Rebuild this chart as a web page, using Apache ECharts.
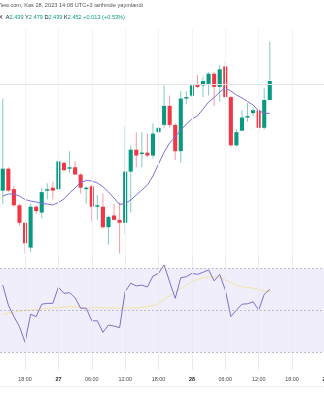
<!DOCTYPE html>
<html>
<head>
<meta charset="utf-8">
<script src="https://cdn.jsdelivr.net/npm/echarts@6/dist/echarts.min.js"></script>
<style>
  html, body { margin: 0; padding: 0; background: #ffffff; }
  #chart { width: 324px; height: 400px; }
</style>
</head>
<body>
<div id="chart"></div>
<script>
// Hourly slots, Nov 26 14:00 .. Nov 29 00:00 (the last ones are still empty)
const hours = [
  '26 14:00','26 15:00','26 16:00','26 17:00','26 18:00','26 19:00','26 20:00','26 21:00','26 22:00','26 23:00',
  '27 00:00','27 01:00','27 02:00','27 03:00','27 04:00','27 05:00','27 06:00','27 07:00','27 08:00','27 09:00',
  '27 10:00','27 11:00','27 12:00','27 13:00','27 14:00','27 15:00','27 16:00','27 17:00','27 18:00','27 19:00',
  '27 20:00','27 21:00','27 22:00','27 23:00',
  '28 00:00','28 01:00','28 02:00','28 03:00','28 04:00','28 05:00','28 06:00','28 07:00','28 08:00','28 09:00',
  '28 10:00','28 11:00','28 12:00','28 13:00','28 14:00','28 15:00','28 16:00','28 17:00','28 18:00','28 19:00',
  '28 20:00','28 21:00','28 22:00','28 23:00',
  '29 00:00'
];

// Time-axis labels shown under the RSI pane
const tickHours = ['26 18:00','27 00:00','27 06:00','27 12:00','27 18:00','28 00:00','28 06:00','28 12:00','28 18:00','29 00:00'];

// OHLC per hour
const openP  = [2.377,2.392,2.378,2.367,2.355,2.338,2.366,2.362,2.377,2.379,
                2.378,2.396,2.392,2.393,2.388,2.378,2.380,2.366,2.366,2.352,
                2.360,2.357,2.355,2.390,2.405,2.402,2.403,2.401,2.417,2.422,
                2.435,2.422,2.404,2.440,2.442,2.450,2.449,2.450,2.457,2.448,
                2.462,2.441,2.408,2.418,2.427,2.430,2.432,2.420,2.439];
const highP  = [2.440,2.393,2.380,2.368,2.355,2.368,2.367,2.379,2.382,2.383,
                2.400,2.397,2.404,2.397,2.389,2.380,2.381,2.374,2.375,2.360,
                2.368,2.369,2.421,2.408,2.417,2.417,2.416,2.423,2.425,2.449,
                2.442,2.423,2.445,2.445,2.450,2.456,2.455,2.458,2.458,2.463,
                2.465,2.442,2.419,2.432,2.437,2.434,2.434,2.447,2.479];
const lowP   = [2.368,2.376,2.366,2.353,2.334,2.335,2.361,2.358,2.371,2.371,
                2.377,2.390,2.389,2.388,2.375,2.368,2.356,2.357,2.351,2.340,
                2.357,2.334,2.347,2.362,2.393,2.393,2.400,2.399,2.401,2.420,
                2.420,2.398,2.396,2.436,2.441,2.447,2.441,2.442,2.435,2.438,
                2.440,2.407,2.407,2.418,2.424,2.428,2.417,2.419,2.439];
const closeP = [2.392,2.377,2.367,2.355,2.341,2.366,2.363,2.376,2.378,2.377,
                2.397,2.391,2.393,2.388,2.379,2.379,2.366,2.367,2.352,2.359,
                2.357,2.355,2.390,2.405,2.401,2.403,2.401,2.416,2.420,2.435,
                2.422,2.404,2.440,2.441,2.449,2.448,2.452,2.457,2.448,2.460,
                2.441,2.408,2.417,2.427,2.428,2.432,2.420,2.439,2.452];

// Moving average drawn over the candles
const maLine = [2.3733,2.3747,2.3747,2.3733,2.3709,2.3699,2.3692,2.3683,2.3678,2.3672,
                2.3689,2.3713,2.3754,2.3788,2.3826,2.3839,2.3836,2.3822,2.3797,2.3761,
                2.3719,2.3675,2.3682,2.3706,2.3740,2.3774,2.3808,2.3870,2.3952,2.4034,
                2.4096,2.4137,2.4185,2.4226,2.4260,2.4281,2.4328,2.4376,2.4407,2.4445,
                2.4472,2.4452,2.4424,2.4404,2.4380,2.4356,2.4315,2.4301,2.4298];

// RSI and its moving average
const rsiLine = [62.0,52.5,47.0,42.2,34.8,48.1,47.0,52.9,53.3,53.3,
                 61.0,58.1,58.4,56.0,51.0,51.0,45.0,45.0,39.5,43.0,
                 42.5,41.7,58.9,62.9,61.6,62.0,61.1,66.3,67.6,71.6,
                 63.5,55.7,65.5,66.0,67.6,67.1,68.1,69.2,64.0,67.1,
                 59.7,47.0,50.1,52.9,53.1,54.1,50.1,57.6,60.0];
const rsiMa   = [48.0,48.7,49.2,49.7,49.9,50.1,50.4,50.6,51.0,51.1,
                 51.3,51.6,51.7,51.7,51.3,51.0,51.1,51.3,51.3,51.1,
                 51.0,51.0,51.0,51.1,51.2,51.4,51.7,52.3,53.2,55.1,
                 57.0,58.8,60.3,62.0,63.5,64.7,65.5,65.9,66.0,65.6,
                 64.7,63.2,62.0,61.2,60.9,60.5,59.9,59.2,58.9];

const rsiLevels = [70, 50, 30];

const UP = '#089981';
const DOWN = '#f23645';
const FONT = '"Liberation Sans", Arial, sans-serif';
const SLOT = 5.5625;                 // width of one hourly slot
const PLOT_W = SLOT * hours.length;  // plot runs past the right edge

const candles = openP.map((o, i) => [i, o, highP[i], lowP[i], closeP[i]]);
const gridLines = tickHours.map(h => ({ xAxis: hours.indexOf(h) }));

function renderCandle(params, api) {
  const i = api.value(0);
  const o = api.value(1), h = api.value(2), l = api.value(3), c = api.value(4);
  const col = c >= o ? UP : DOWN;
  const pO = api.coord([i, o]);
  const pC = api.coord([i, c]);
  const pH = api.coord([i, h]);
  const pL = api.coord([i, l]);
  const x = pO[0];
  const bw = 4.1;
  let top = Math.min(pO[1], pC[1]);
  let bot = Math.max(pO[1], pC[1]);
  if (bot - top < 1.3) { const m = (top + bot) / 2; top = m - 0.65; bot = m + 0.65; }
  return {
    type: 'group',
    children: [
      { type: 'line', shape: { x1: x, y1: pH[1], x2: x, y2: pL[1] },
        style: { stroke: col, lineWidth: 1, opacity: 0.5 } },
      { type: 'rect', shape: { x: x - bw / 2, y: top, width: bw, height: bot - top },
        style: { fill: col } }
    ]
  };
}

const chart = echarts.init(document.getElementById('chart'), null, { renderer: 'canvas' });

chart.setOption({
  animation: false,
  backgroundColor: '#ffffff',
  grid: [
    { left: 0, width: PLOT_W, top: 28.4, height: 228, containLabel: false, outerBoundsMode: 'none' },
    { left: 0, width: PLOT_W, top: 255.7, height: 114.45, containLabel: false, outerBoundsMode: 'none' }
  ],
  xAxis: [
    { type: 'category', gridIndex: 0, data: hours, boundaryGap: true,
      axisLine: { show: false }, axisTick: { show: false }, axisLabel: { show: false },
      splitLine: { show: false } },
    { type: 'category', gridIndex: 1, data: hours, boundaryGap: true,
      axisLine: { show: false }, axisTick: { show: false }, splitLine: { show: false },
      axisLabel: {
        show: true,
        margin: 7,
        hideOverlap: false,
        interval: (idx, val) => tickHours.indexOf(val) >= 0,
        formatter: (val) => {
          const [day, t] = val.split(' ');
          return t === '00:00' ? '{d|' + day + '}' : '{t|' + t + '}';
        },
        rich: {
          t: { fontSize: 5.4, color: '#4a4a4a', fontFamily: FONT },
          d: { fontSize: 5.4, color: '#222222', fontWeight: 'bold', fontFamily: FONT }
        }
      } }
  ],
  yAxis: [
    { type: 'value', gridIndex: 0, min: 2.332, max: 2.488, show: false, splitLine: { show: false } },
    { type: 'value', gridIndex: 1, min: 21.5, max: 76, show: false, splitLine: { show: false } }
  ],
  series: [
    {
      name: 'grid-v-main', type: 'line', xAxisIndex: 0, yAxisIndex: 0, data: [],
      markLine: { silent: true, symbol: 'none', label: { show: false },
        lineStyle: { color: '#f4f4f7', width: 1, type: 'solid' }, data: gridLines }
    },
    {
      name: 'grid-v-rsi', type: 'line', xAxisIndex: 1, yAxisIndex: 1, data: [],
      markLine: { silent: true, symbol: 'none', label: { show: false },
        lineStyle: { color: '#ebeaf2', width: 1, type: 'solid' }, data: gridLines }
    },
    {
      name: 'Fiyat', type: 'custom', xAxisIndex: 0, yAxisIndex: 0,
      renderItem: renderCandle,
      encode: { x: 0, y: [1, 2, 3, 4] },
      data: candles,
      markLine: { silent: true, symbol: 'none', label: { show: false },
        lineStyle: { color: '#e4e4e8', width: 1, type: 'solid' },
        data: [{ yAxis: closeP[closeP.length - 1] }] },
      z: 3
    },
    {
      name: 'MA', type: 'line', xAxisIndex: 0, yAxisIndex: 0, data: maLine,
      symbol: 'none', lineStyle: { color: '#7a70d8', width: 1 }, z: 4
    },
    {
      name: 'RSI', type: 'line', xAxisIndex: 1, yAxisIndex: 1, data: rsiLine,
      symbol: 'none', lineStyle: { color: '#7e6fc9', width: 1 }, z: 4,
      markArea: { silent: true, itemStyle: { color: '#f0eefb' },
        data: [[{ yAxis: rsiLevels[2] }, { yAxis: rsiLevels[0] }]] },
      markLine: { silent: true, symbol: 'none', label: { show: false },
        lineStyle: { color: '#a9a6bb', width: 0.7, type: [2, 2] },
        data: rsiLevels.map(v => ({ yAxis: v })) }
    },
    {
      name: 'RSI MA', type: 'line', xAxisIndex: 1, yAxisIndex: 1, data: rsiMa,
      symbol: 'none', lineStyle: { color: '#f4e4a0', width: 1 }, z: 3
    }
  ],
  graphic: [
    { type: 'text', left: -3, top: 2,
      style: { text: 'View.com, Kas 28, 2023 14:08 UTC+3 tarihinde yayınlandı',
        fontSize: 5.65, fontFamily: FONT, fill: '#555555' } },
    { type: 'text', left: -1, top: 14,
      style: {
        text: '{a|X}  {a|A}{v|2.439} {a|Y}{v|2.479} {a|D}{v|2.439} {a|K}{v|2.452} {v|+0.013 (+0.53%)}',
        fontSize: 5.6, fontFamily: FONT,
        rich: {
          a: { fontSize: 5.6, fontFamily: FONT, fill: '#131722', color: '#131722' },
          v: { fontSize: 5.6, fontFamily: FONT, fill: UP, color: UP }
        }
      } },
    { type: 'line', shape: { x1: 0, y1: 386.5, x2: 324, y2: 386.5 },
      style: { stroke: '#eeeeee', lineWidth: 1 } }
  ]
});
</script>
</body>
</html>
